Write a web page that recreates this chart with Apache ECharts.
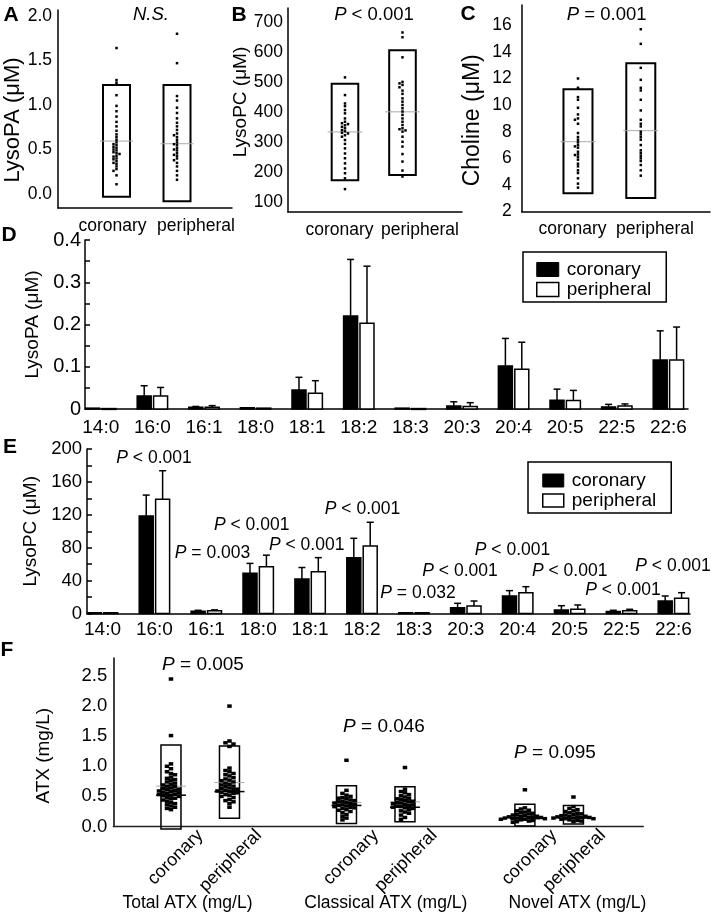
<!DOCTYPE html>
<html><head><meta charset="utf-8">
<script src="https://cdn.jsdelivr.net/npm/echarts@6/dist/echarts.min.js"></script>
<style>html,body{margin:0;padding:0;background:#fff}#c{width:711px;height:915px}</style>
</head><body><div id="c"></div>
<script>
// ---------------- DATA ----------------
const groupNames = ['coronary', 'peripheral'];

// Panel A: LysoPA (μM)
const lysoPA_coronary = [1.64,1.28,1.25,1.11,0.99,0.93,0.87,0.81,0.76,0.71,0.67,0.64,0.61,0.58,0.56,0.55,0.53,0.52,0.50,0.49,0.47,0.46,0.45,0.43,0.42,0.40,0.39,0.37,0.35,0.34,0.31,0.28,0.26,0.21,0.11];
const lysoPA_peripheral = [1.80,1.47,1.10,1.05,0.97,0.91,0.85,0.80,0.76,0.72,0.68,0.66,0.64,0.61,0.58,0.56,0.55,0.52,0.50,0.49,0.46,0.44,0.43,0.40,0.38,0.35,0.31,0.26,0.21,0.16];
const lysoPA_boxTop = [1.225, 1.225];
const lysoPA_boxBottom = [-0.03, -0.08];
const lysoPA_mean = [0.595, 0.565];
const lysoPA_ticks = [0, 0.5, 1.0, 1.5, 2.0];

// Panel B: LysoPC (μM)
const lysoPC_coronary = [515,456,428,419,406,395,378,367,362,359,355,350,345,339,335,330,328,322,317,306,293,278,261,245,228,211,195,178,142];
const lysoPC_peripheral = [665,649,582,500,495,490,482,471,460,445,434,423,412,401,390,378,367,356,345,342,338,334,317,300,284,259,234,204,184];
const lysoPC_boxTop = [494, 606];
const lysoPC_boxBottom = [172, 189];
const lysoPC_mean = [333, 400];
const lysoPC_ticks = [100, 200, 300, 400, 500, 600, 700];

// Panel C: Choline (μM)
const choline_coronary = [12.0,11.3,10.6,10.4,9.8,9.3,9.0,8.9,8.6,7.9,7.6,7.4,7.2,7.0,6.9,6.8,6.5,6.3,6.25,6.1,5.9,5.6,5.4,5.1,4.9,4.5,4.1,3.8];
const choline_peripheral = [15.7,14.6,12.8,11.9,11.3,11.1,10.4,9.6,8.9,8.6,8.4,8.0,7.8,7.6,7.4,7.0,6.6,6.4,6.2,6.0,5.8,5.5,5.1,4.7];
const choline_boxTop = [11.19, 13.14];
const choline_boxBottom = [3.37, 3.02];
const choline_mean = [7.25, 8.08];
const choline_ticks = [2, 4, 6, 8, 10, 12, 14, 16];

// Panels D/E: fatty-acid species
const species = ['14:0','16:0','16:1','18:0','18:1','18:2','18:3','20:3','20:4','20:5','22:5','22:6'];
// D: LysoPA species (μM), mean and SD
const lpaCoronaryMean = [0.002,0.031,0.004,0.003,0.045,0.220,0.002,0.007,0.102,0.021,0.005,0.116];
const lpaCoronarySD   = [0,0.024,0.002,0,0.030,0.134,0,0.010,0.065,0.026,0.006,0.069];
const lpaPeripheralMean = [0.001,0.031,0.004,0.002,0.037,0.203,0.001,0.006,0.094,0.020,0.007,0.116];
const lpaPeripheralSD   = [0,0.020,0.004,0,0.030,0.135,0,0.009,0.064,0.024,0.005,0.078];
const lpaTicks = [0, 0.1, 0.2, 0.3, 0.4];
const lpaMinorTicks = [0,0.05,0.1,0.15,0.2,0.25,0.3,0.35,0.4];
// E: LysoPC species (μM), mean and SD
const lpcCoronaryMean = [1,118.6,3,49,42,68,1,7.2,21.4,4.4,2.5,15.3];
const lpcCoronarySD   = [0,25.4,1,12,14,23.5,0,5.3,6.5,5.2,1.5,6.1];
const lpcPeripheralMean = [1,138.9,3.5,57,51,82,1,9.2,25.4,5.2,3.5,18.6];
const lpcPeripheralSD   = [0,34.7,1,14,17,29,0,6.1,7.3,5.3,1.7,6.8];
const lpcTicks = [0, 40, 80, 120, 160, 200];
const lpcMinorTicks = [0,20,40,60,80,100,120,140,160,180,200];
const lpcPValues = [null,'P < 0.001','P = 0.003','P < 0.001','P < 0.001','P < 0.001','P = 0.032','P < 0.001','P < 0.001','P < 0.001','P < 0.001','P < 0.001'];

// Panel F: ATX (mg/L)
const atxCategories = ['coronary','peripheral','coronary','peripheral','coronary','peripheral'];
const atxGroups = ['Total ATX (mg/L)','Classical ATX (mg/L)','Novel ATX (mg/L)'];
const atxTotal_coronary = [2.45,1.51,1.04,1.00,0.96,0.91,0.88,0.86,0.82,0.80,0.78,0.76,0.74,0.72,0.70,0.69,0.67,0.66,0.64,0.63,0.62,0.61,0.60,0.59,0.58,0.57,0.56,0.55,0.54,0.53,0.52,0.51,0.50,0.48,0.47,0.46,0.44,0.42,0.40,0.38,0.36,0.34,0.32,0.30,0.28];
const atxTotal_peripheral = [2.00,1.42,1.39,1.37,1.33,0.97,0.93,0.91,0.88,0.86,0.84,0.81,0.79,0.77,0.76,0.74,0.72,0.70,0.69,0.67,0.66,0.64,0.63,0.62,0.61,0.60,0.59,0.58,0.57,0.56,0.55,0.53,0.52,0.50,0.48,0.45,0.43,0.41,0.38,0.32];
const atxClassical_coronary = [1.10,0.60,0.55,0.52,0.50,0.48,0.47,0.46,0.44,0.43,0.42,0.41,0.40,0.39,0.38,0.37,0.36,0.35,0.34,0.33,0.32,0.31,0.30,0.28,0.27,0.25,0.23,0.20,0.17,0.14,0.11];
const atxClassical_peripheral = [0.98,0.62,0.58,0.56,0.53,0.51,0.49,0.47,0.46,0.45,0.43,0.42,0.41,0.40,0.39,0.38,0.37,0.36,0.35,0.34,0.33,0.32,0.31,0.30,0.28,0.26,0.24,0.22,0.19,0.15,0.12];
const atxNovel_coronary = [0.61,0.31,0.29,0.27,0.26,0.24,0.23,0.22,0.21,0.20,0.19,0.18,0.17,0.17,0.16,0.16,0.15,0.15,0.14,0.14,0.13,0.13,0.12,0.12,0.11,0.10,0.09,0.08,0.07];
const atxNovel_peripheral = [0.49,0.33,0.30,0.28,0.26,0.25,0.23,0.22,0.21,0.20,0.19,0.18,0.17,0.17,0.16,0.16,0.15,0.15,0.14,0.14,0.13,0.13,0.12,0.11,0.10,0.09,0.08];
const atxBoxTop = [1.354,1.337,0.678,0.66,0.37,0.35];
const atxBoxBottom = [-0.04,0.136,0.05,0.08,0.01,0.04];
const atxMean = [0.67,0.73,0.40,0.41,0.16,0.16];
const atxMedian = [0.52,0.58,0.35,0.32,0.13,0.14];
const atxTicks = [0, 0.5, 1.0, 1.5, 2.0, 2.5];
const atxPValues = ['P = 0.005','P = 0.046','P = 0.095'];

const topPValues = ['N.S.', 'P < 0.001', 'P = 0.001'];

// ---------------- LAYOUT (positions, not data) ----------------
const ff = "'Liberation Sans', Arial, Helvetica, sans-serif";
const boxPos = [1, 2];
const labelPosABC = [[0.934, 2.314], [0.904, 2.304], [0.912, 2.226]];
const atxPos = [0, 1, 3, 4, 6.05, 6.88];
const lpcPLayout = [null,[154,458],[212.5,553],[251.7,525],[306.7,545],[362.5,509],[418,593],[460,571.5],[512.5,550],[569.7,571.5],[623,590],[673,566.5]];
const atxPLayout = [[203,665],[384,727],[555,753]];
const atxGroupLayout = [[187.5,903],[385.8,903],[577.5,903]];
const topPLayout = [[151,15],[374,15],[606.7,15]];
const panelLetters = [['A',11,15],['B',239,15],['C',468,14],['D',9,235],['E',10,447],['F',7,650]];

// ---------------- HELPERS ----------------
const black = '#000';
const axLine = {show:true, onZero:false, lineStyle:{color:black, width:1.5}};

function richP(t){
  if (t.indexOf('P ') === 0) return '{i|P}' + t.slice(1);
  return '{i|' + t + '}';
}

function boxSeries(g, pos, tops, bottoms, means, medians, halfW, ext, lw){
  return {
    type:'custom', xAxisIndex:g, yAxisIndex:g, silent:true, z:3,
    data: pos.map((x,i)=>[x, tops[i], bottoms[i], means[i], medians ? medians[i] : null]),
    renderItem(params, api){
      const x = api.value(0);
      const t = api.coord([x, api.value(1)]);
      const b = api.coord([x, api.value(2)]);
      const m = api.coord([x, api.value(3)]);
      const ch = [
        {type:'rect', shape:{x:t[0]-halfW, y:t[1], width:2*halfW, height:b[1]-t[1]}, style:{fill:'none', stroke:black, lineWidth:lw}},
        {type:'line', shape:{x1:m[0]-halfW-ext, y1:m[1], x2:m[0]+halfW+ext, y2:m[1]}, style:{stroke:'#aaa', lineWidth:1}}
      ];
      if (medians){
        const md = api.coord([x, api.value(4)]);
        ch.push({type:'line', shape:{x1:md[0]-halfW-ext, y1:md[1], x2:md[0]+halfW+ext, y2:md[1]}, style:{stroke:black, lineWidth:1.5}});
      }
      return {type:'group', children:ch};
    }
  };
}

// compact swarm: each point takes the nearest free horizontal slot (0, -1, +1, -2, +2 ...)
function stripSeries(g, xPos, values, w, h, step){
  const slotCache = {};
  return {
    type:'custom', xAxisIndex:g, yAxisIndex:g, silent:true, z:4,
    data: values.map(v=>[xPos, v]),
    renderItem(params, api){
      const i = params.dataIndex;
      const ys = values.map(v => api.coord([xPos, v])[1]);
      const slots = [];
      for (let j=0;j<=i;j++){
        let s = 0, n = 0;
        while (true){
          s = n===0 ? 0 : (n%2 ? -Math.ceil(n/2) : Math.ceil(n/2));
          let clash = false;
          for (let q=0;q<j;q++){ if (slots[q]===s && Math.abs(ys[q]-ys[j]) < h) { clash = true; break; } }
          if (!clash) break;
          n++;
        }
        slots.push(s);
      }
      const p = api.coord([api.value(0), api.value(1)]);
      const dx = slots[i] * step;
      return {type:'rect', shape:{x:p[0]+dx-w/2, y:p[1]-h/2, width:w, height:h}, style:{fill:black}};
    }
  };
}

function barSeries(g, name, means, sds, side, fill){
  return {
    type:'custom', name, xAxisIndex:g, yAxisIndex:g, z:3,
    itemStyle:{color:fill, borderColor:black, borderWidth:1.5},
    data: means.map((m,i)=>[i, m, m + sds[i]]),
    renderItem(params, api){
      const i = api.value(0);
      const base = api.coord([i, 0]);
      const top = api.coord([i, api.value(1)]);
      const err = api.coord([i, api.value(2)]);
      const w = 14;
      const x0 = side < 0 ? base[0] - 15.2 : base[0] + 1.2;
      const cx = x0 + w/2;
      const ch = [{type:'rect', shape:{x:x0, y:top[1], width:w, height:Math.max(base[1]-top[1], 0.8)}, style:{fill:fill, stroke:black, lineWidth:1.5}}];
      if (api.value(2) > api.value(1)){
        ch.push({type:'line', shape:{x1:cx, y1:top[1], x2:cx, y2:err[1]}, style:{stroke:black, lineWidth:1.5}});
        ch.push({type:'line', shape:{x1:cx-3.5, y1:err[1], x2:cx+3.5, y2:err[1]}, style:{stroke:black, lineWidth:1.5}});
      }
      return {type:'group', children:ch};
    }
  };
}

function yAxisCfg(g, min, max, labels, fmt, name, nameFs, nameGap, namePad, lblFs, margin, minor){
  return {
    gridIndex:g, type:'value', min, max,
    axisLine:axLine, splitLine:{show:false},
    axisTick: minor ? {show:true, inside:true, length:5, customValues:minor, lineStyle:{color:black, width:1.5}} : {show:false},
    axisLabel:{customValues:labels, formatter:fmt, color:black, fontFamily:ff, fontSize:lblFs, margin},
    name, nameLocation:'middle', nameGap,
    nameTextStyle:{fontFamily:ff, fontSize:nameFs, color:black, padding:namePad}
  };
}

function xAxisABC(g, min, max, lblPos){
  return {
    gridIndex:g, type:'value', min, max, axisLine:axLine, axisTick:{show:false}, splitLine:{show:false},
    axisLabel:{customValues:lblPos, formatter:v => v < 1.5 ? groupNames[0] : groupNames[1], color:black, fontFamily:ff, fontSize:17.5, margin:9}
  };
}

// ---------------- OPTION ----------------
const legendItems = [
  {name:'coronary', icon:'rect', itemStyle:{color:black, borderColor:black, borderWidth:1}},
  {name:'peripheral', icon:'rect', itemStyle:{color:'#fff', borderColor:black, borderWidth:1.5}}
];

const graphics = [];
panelLetters.forEach(([t,x,y])=>graphics.push({type:'text', x, y, style:{text:t, align:'center', verticalAlign:'middle', font:"bold 21px " + ff, fill:black}}));
topPValues.forEach((t,i)=>graphics.push({type:'text', x:topPLayout[i][0], y:topPLayout[i][1], style:{text:richP(t), align:'center', verticalAlign:'middle', fontFamily:ff, fontSize:18.5, fill:black, rich:{i:{fontStyle:'italic', fontFamily:ff, fontSize:18.5}}}}));
lpcPValues.forEach((t,i)=>{ if(!t) return; graphics.push({type:'text', x:lpcPLayout[i][0], y:lpcPLayout[i][1], style:{text:richP(t), align:'center', verticalAlign:'middle', fontFamily:ff, fontSize:17.5, fill:black, rich:{i:{fontStyle:'italic', fontFamily:ff, fontSize:17.5}}}}); });
atxPValues.forEach((t,i)=>graphics.push({type:'text', x:atxPLayout[i][0], y:atxPLayout[i][1], style:{text:richP(t), align:'center', verticalAlign:'middle', fontFamily:ff, fontSize:19, fill:black, rich:{i:{fontStyle:'italic', fontFamily:ff, fontSize:19}}}}));
atxGroups.forEach((t,i)=>graphics.push({type:'text', x:atxGroupLayout[i][0], y:atxGroupLayout[i][1], style:{text:t, align:'center', verticalAlign:'middle', fontFamily:ff, fontSize:17.5, fill:black}}));

const atxLabelPos = atxPos.map(x => x + 0.5);

const option = {
  backgroundColor:'#fff',
  animation:false,
  textStyle:{fontFamily:ff},
  grid:[
    {left:58, top:10, width:174, height:198},
    {left:288, top:8, width:174, height:204},
    {left:521.7, top:5, width:188.3, height:206.6},
    {left:85, top:240, width:603, height:169},
    {left:87, top:449, width:603, height:164.6},
    {left:113.3, top:658, width:530, height:168.5}
  ],
  xAxis:[
    xAxisABC(0, 0.033, 2.909, labelPosABC[0]),
    xAxisABC(1, 0.009, 3.035, labelPosABC[1]),
    xAxisABC(2, 0.104, 3.102, labelPosABC[2]),
    {gridIndex:3, type:'value', min:-0.306, max:11.38, axisLine:axLine, axisTick:{show:false}, splitLine:{show:false},
     axisLabel:{customValues:species.map((s,i)=>i), formatter:v=>species[Math.round(v)], color:black, fontFamily:ff, fontSize:19, margin:9}},
    {gridIndex:4, type:'value', min:-0.299, max:11.32, axisLine:axLine, axisTick:{show:false}, splitLine:{show:false},
     axisLabel:{customValues:species.map((s,i)=>i), formatter:v=>species[Math.round(v)], color:black, fontFamily:ff, fontSize:19, margin:7}},
    {gridIndex:5, type:'value', min:-0.986, max:8.074, axisLine:{show:true, onZero:false, lineStyle:{color:'#222', width:1.3}}, axisTick:{show:false}, splitLine:{show:false},
     axisLabel:{customValues:atxLabelPos, rotate:45, formatter:v=>{let b=0; atxLabelPos.forEach((p,i)=>{ if(Math.abs(p-v)<Math.abs(atxLabelPos[b]-v)) b=i; }); return atxCategories[b];}, color:black, fontFamily:ff, fontSize:18, margin:6}}
  ],
  yAxis:[
    yAxisCfg(0, -0.157, 2.067, lysoPA_ticks, v=>v.toFixed(1), 'LysoPA (μM)', 22, 30, [0,22,0,0], 17.5, 6),
    yAxisCfg(1, 65.6, 746.7, lysoPC_ticks, v=>String(v), 'LysoPC (μM)', 19, 36, [0,0,0,16], 17.5, 5),
    yAxisCfg(2, 2, 17.52, choline_ticks, v=>String(v), 'Choline (μM)', 23, 38, [0,24,0,0], 17.5, 10),
    yAxisCfg(3, 0, 0.4, lpaTicks, v=>v===0?'0':v.toFixed(1), 'LysoPA (μM)', 19, 42, [0,0,0,0], 20, 4, lpaMinorTicks),
    yAxisCfg(4, 0, 200, lpcTicks, v=>String(v), 'LysoPC (μM)', 19, 44, [0,0,0,0], 18.5, 5, lpcMinorTicks),
    yAxisCfg(5, 0, 2.799, atxTicks, v=>v.toFixed(1), 'ATX (mg/L)', 19, 60, [0,27,0,0], 18.5, 6)
  ],
  legend:[
    {left:523, top:252, orient:'vertical', padding:[8,15,3,13], itemWidth:22, itemHeight:14, itemGap:1,
     borderColor:black, borderWidth:1.5, selectedMode:false, data:legendItems,
     textStyle:{fontFamily:ff, fontSize:19, color:black, padding:[0,0,0,3]}},
    {left:528, top:462, orient:'vertical', padding:[9,15,3,14], itemWidth:21, itemHeight:13, itemGap:1,
     borderColor:black, borderWidth:1.5, selectedMode:false, data:legendItems,
     textStyle:{fontFamily:ff, fontSize:19, color:black, padding:[0,0,0,3]}}
  ],
  graphic: graphics,
  series:[
    boxSeries(0, boxPos, lysoPA_boxTop, lysoPA_boxBottom, lysoPA_mean, null, 13.5, 3, 2),
    stripSeries(0, boxPos[0], lysoPA_coronary, 2.5, 2.5, 3),
    stripSeries(0, boxPos[1], lysoPA_peripheral, 2.5, 2.5, 3),
    boxSeries(1, boxPos, lysoPC_boxTop, lysoPC_boxBottom, lysoPC_mean, null, 13.3, 4, 2),
    stripSeries(1, boxPos[0], lysoPC_coronary, 2.5, 2.5, 3),
    stripSeries(1, boxPos[1], lysoPC_peripheral, 2.5, 2.5, 3),
    boxSeries(2, boxPos, choline_boxTop, choline_boxBottom, choline_mean, null, 14.5, 3, 2),
    stripSeries(2, boxPos[0], choline_coronary, 2.5, 2.5, 3),
    stripSeries(2, boxPos[1], choline_peripheral, 2.5, 2.5, 3),
    barSeries(3, 'coronary', lpaCoronaryMean, lpaCoronarySD, -1, black),
    barSeries(3, 'peripheral', lpaPeripheralMean, lpaPeripheralSD, 1, '#fff'),
    barSeries(4, 'coronary', lpcCoronaryMean, lpcCoronarySD, -1, black),
    barSeries(4, 'peripheral', lpcPeripheralMean, lpcPeripheralSD, 1, '#fff'),
    boxSeries(5, atxPos, atxBoxTop, atxBoxBottom, atxMean, atxMedian, 10, 5, 1.5),
    stripSeries(5, atxPos[0], atxTotal_coronary, 4.5, 3.5, 4),
    stripSeries(5, atxPos[1], atxTotal_peripheral, 4.5, 3.5, 4),
    stripSeries(5, atxPos[2], atxClassical_coronary, 4.5, 3.5, 4),
    stripSeries(5, atxPos[3], atxClassical_peripheral, 4.5, 3.5, 4),
    stripSeries(5, atxPos[4], atxNovel_coronary, 4.5, 3.5, 4),
    stripSeries(5, atxPos[5], atxNovel_peripheral, 4.5, 3.5, 4)
  ]
};

const chart = echarts.init(document.getElementById('c'));
chart.setOption(option);
</script>
</body></html>
